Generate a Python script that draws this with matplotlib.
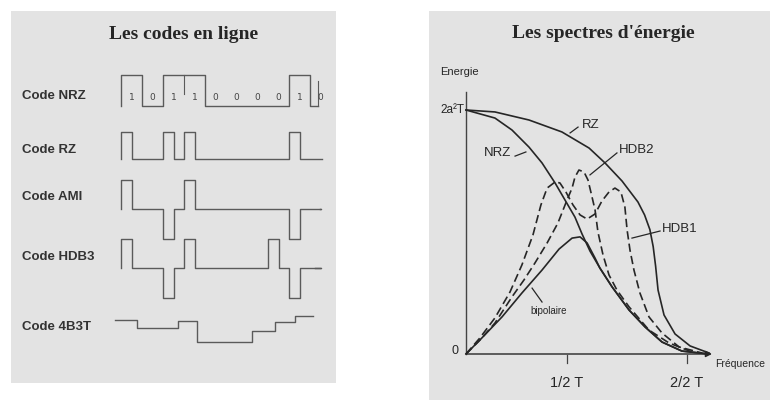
import numpy as np
import matplotlib
matplotlib.use('Agg')
import matplotlib.pyplot as plt

W, H = 770, 401
bg = '#e3e3e3'
ink = '#262626'
wave_col = '#5a5a5a'

# ---- left panel : line codes ----
code_names = ['Code NRZ', 'Code RZ', 'Code AMI', 'Code HDB3', 'Code 4B3T']
bits = [1, 0, 1, 1, 0, 0, 0, 0, 1, 0]
ami = [1, 0, -1, 1, 0, 0, 0, 0, -1, 0]
hdb3 = [1, 0, -1, 1, 0, 0, 0, 1, -1, 0]
# 4B3T drawn as transitions (in bit periods) and levels
t4_edges = [-0.29, 0.76, 2.71, 3.62, 6.24, 7.33, 8.29, 9.14]
t4_levels = [0, -0.73, -0.09, -2.0, -1.0, -0.18, 0.36]

# ---- right panel : energy spectra (f*T, energy / 2a2T) ----
nrz_f = [0, 0.131, 0.208, 0.285, 0.344, 0.403, 0.448, 0.493, 0.525, 0.561, 0.606, 0.661, 0.738, 0.810, 0.887, 0.977, 1.10]
nrz_e = [1.0, 0.967, 0.918, 0.848, 0.783, 0.701, 0.631, 0.561, 0.492, 0.422, 0.352, 0.275, 0.180, 0.111, 0.049, 0.012, 0.0]
rz_f = [0, 0.131, 0.285, 0.434, 0.557, 0.629, 0.706, 0.778, 0.808, 0.832, 0.847, 0.858, 0.869, 0.896, 0.946, 1.014, 1.10]
rz_e = [1.0, 0.992, 0.959, 0.910, 0.844, 0.783, 0.709, 0.623, 0.570, 0.510, 0.440, 0.360, 0.262, 0.160, 0.082, 0.033, 0.004]
bip_f = [0, 0.072, 0.163, 0.253, 0.344, 0.421, 0.480, 0.516, 0.548, 0.584, 0.606, 0.661, 0.738, 0.810, 0.887, 0.977, 1.10]
bip_e = [0, 0.066, 0.152, 0.250, 0.344, 0.430, 0.475, 0.480, 0.455, 0.393, 0.352, 0.275, 0.180, 0.111, 0.049, 0.012, 0.0]
hdb1_f = [0, 0.063, 0.131, 0.199, 0.253, 0.303, 0.339, 0.367, 0.403, 0.425, 0.452, 0.484, 0.516, 0.548, 0.584, 0.615, 0.647,
          0.674, 0.701, 0.719, 0.729, 0.742, 0.760, 0.787, 0.828, 0.887, 0.964, 1.068]
hdb1_e = [0, 0.066, 0.148, 0.254, 0.365, 0.488, 0.611, 0.680, 0.705, 0.701, 0.664, 0.611, 0.570, 0.553, 0.574, 0.627, 0.664,
          0.680, 0.664, 0.602, 0.508, 0.426, 0.344, 0.250, 0.152, 0.086, 0.029, 0.004]
hdb2_f = [0, 0.063, 0.131, 0.208, 0.262, 0.312, 0.367, 0.416, 0.457, 0.480, 0.493, 0.511, 0.534, 0.552, 0.566, 0.584, 0.597,
          0.620, 0.647, 0.683, 0.738, 0.828, 0.919, 1.023]
hdb2_e = [0, 0.057, 0.127, 0.234, 0.303, 0.373, 0.455, 0.537, 0.631, 0.680, 0.725, 0.754, 0.746, 0.713, 0.660, 0.590, 0.500,
          0.406, 0.324, 0.262, 0.193, 0.098, 0.045, 0.008]
tick_pos = [0.457, 1.0]
tick_labels = ['1/2 T', '2/2 T']


def box(x0, y0, x1, y1):
    return [x0 / W, 1 - y1 / H, (x1 - x0) / W, (y1 - y0) / H]


def clean(ax):
    ax.set_facecolor(bg)
    ax.set_xticks([])
    ax.set_yticks([])
    for s in ax.spines.values():
        s.set_visible(False)


def step_path(edges, levels):
    x = np.repeat(edges, 2)[1:-1]
    y = np.repeat(levels, 2)
    return x, y


fig = plt.figure(figsize=(7.7, 4.01), dpi=100)
fig.patch.set_facecolor('white')

# left panel, x in bit periods, y in pixel rows
axL = fig.add_axes(box(11, 11, 336, 383))
clean(axL)
axL.set_xlim((11 - 121) / 21, (336 - 121) / 21)
axL.set_ylim(383, 11)

axL.text(0.53, 0.938, 'Les codes en ligne', transform=axL.transAxes, ha='center', va='center',
         family='Liberation Serif', fontweight='bold', fontsize=14, color=ink)

row_base = [106, 159, 209, 268, 320]
row_amp = [31, 27, 29.5, 29.5, 11]
row_end = [9.4, 9.57, 9.48, 9.24]
label_y = [96, 150, 197, 257, 327]

for name, ly in zip(code_names, label_y):
    axL.text(-4.71, ly, name, ha='left', va='center', family='Liberation Sans',
             fontweight='bold', fontsize=9.5, color='#333333')

# NRZ
edges = [0, 0] + list(range(1, 10)) + [row_end[0]]
levels = [0] + bits
x, y = step_path(edges, levels)
axL.plot(x, row_base[0] - row_amp[0] * y, color=wave_col, lw=1.0)
axL.plot([3, 3], [row_base[0] - row_amp[0], row_base[0] - 0.4 * row_amp[0]], color=wave_col, lw=0.8)
axL.plot([row_end[0]] * 2, [row_base[0] - 0.8 * row_amp[0], row_base[0]], color=wave_col, lw=0.8)
for i, b in enumerate(bits):
    axL.text(i + 0.5, 97, str(b), ha='center', va='center', fontsize=6.5, color='#444444')

# RZ / AMI / HDB3 : half-bit pulses
for k, seq in enumerate([bits, ami, hdb3]):
    r = k + 1
    e = [0, 0]
    lv = [0]
    for i, b in enumerate(seq):
        e += [i + 0.5, i + 1]
        lv += [b, 0]
    e[-1] = row_end[r]
    x, y = step_path(e, lv)
    axL.plot(x, row_base[r] - row_amp[r] * np.array(y), color=wave_col, lw=1.0)

# 4B3T
x, y = step_path(t4_edges, t4_levels)
axL.plot(x, row_base[4] - row_amp[4] * np.array(y), color=wave_col, lw=1.0)

# right panel, x = f*T, y = energy / 2a2T
axR = fig.add_axes(box(429, 11, 770, 400))
clean(axR)
axR.set_xlim((429 - 466) / 221, (770 - 466) / 221)
axR.set_ylim((354 - 400) / 244, (354 - 11) / 244)

axR.text(0.51, 0.943, "Les spectres d'énergie", transform=axR.transAxes, ha='center', va='center',
         family='Liberation Serif', fontweight='bold', fontsize=14, color=ink)

axR.plot([0, 0], [0, 1.074], color='#444444', lw=1.0)
axR.annotate('', xy=(1.113, 0), xytext=(0, 0),
             arrowprops=dict(arrowstyle='-|>', color=ink, lw=1.0, mutation_scale=9, shrinkA=0, shrinkB=0))
for tp, tl in zip(tick_pos, tick_labels):
    axR.plot([tp, tp], [-0.004, -0.035], color='#444444', lw=0.9)
    axR.text(tp, -0.119, tl, ha='center', va='center',
             family='Liberation Sans', fontsize=10.5, color=ink)

lw = 1.2
dash = (0, (5, 2.5))
axR.plot(rz_f, rz_e, color=ink, lw=lw)
axR.plot(nrz_f, nrz_e, color=ink, lw=lw)
axR.plot(bip_f, bip_e, color=ink, lw=lw)
axR.plot(hdb1_f, hdb1_e, color=ink, lw=lw, ls=dash)
axR.plot(hdb2_f, hdb2_e, color=ink, lw=lw, ls=dash)

lab = dict(family='Liberation Sans', color=ink, va='center')
axR.text(-0.118, 1.156, 'Energie', fontsize=8, ha='left', **lab)
axR.text(-0.005, 1.0, '2a²T', fontsize=8.5, ha='right', **lab)
axR.text(-0.036, 0.012, '0', fontsize=9, ha='right', **lab)
axR.text(1.128, -0.041, 'Fréquence', fontsize=7.5, ha='left', **lab)

axR.text(0.525, 0.939, 'RZ', fontsize=9.5, ha='left', **lab)
axR.plot([0.507, 0.471], [0.930, 0.906], color=ink, lw=0.9)
axR.text(0.204, 0.824, 'NRZ', fontsize=9.5, ha='right', **lab)
axR.plot([0.222, 0.271], [0.811, 0.828], color=ink, lw=0.9)
axR.text(0.692, 0.836, 'HDB2', fontsize=9.5, ha='left', **lab)
axR.plot([0.683, 0.561], [0.824, 0.734], color=ink, lw=0.9)
axR.text(0.887, 0.512, 'HDB1', fontsize=9.5, ha='left', **lab)
axR.plot([0.878, 0.751], [0.504, 0.475], color=ink, lw=0.9)
axR.text(0.290, 0.176, 'bipolaire', fontsize=7, ha='left', **lab)
axR.plot([0.344, 0.299], [0.213, 0.270], color=ink, lw=0.9)

fig.savefig('out.png', dpi=100, facecolor='white')
